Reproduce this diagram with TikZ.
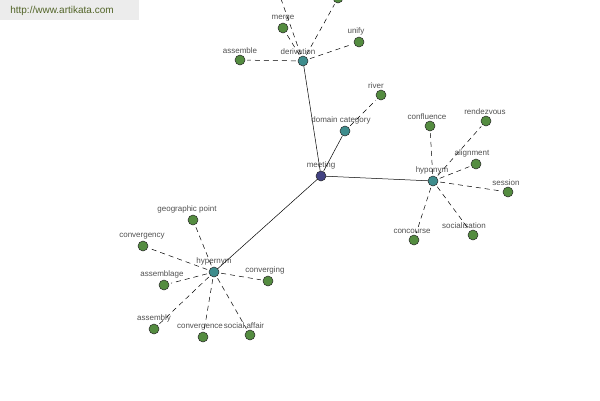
\documentclass[tikz,border=0pt]{standalone}
\usepackage{fontspec}
\setmainfont{Liberation Sans}
\definecolor{leafgreen}{RGB}{84,140,64}
\definecolor{hubteal}{RGB}{62,140,140}
\definecolor{rootblue}{RGB}{66,66,130}
\definecolor{labelgray}{RGB}{80,80,80}
\definecolor{markgray}{RGB}{236,236,236}
\definecolor{markgreen}{RGB}{82,100,40}

\begin{document}
\begin{tikzpicture}[x=1pt, y=-1pt,
    dot/.style={circle, draw=black!85, line width=0.5pt, minimum size=10pt, inner sep=0pt},
    leaf/.style={dot, fill=leafgreen},
    hub/.style={dot, fill=hubteal},
    root/.style={dot, fill=rootblue},
    tag/.style={font=\fontsize{8}{9}\selectfont, text=labelgray, inner sep=1pt},
    solidlink/.style={line width=0.5pt},
    dashlink/.style={line width=0.5pt, dash pattern=on 5pt off 4pt, shorten <=2pt, shorten >=2pt}]
    \useasboundingbox (0,0) rectangle (600,400);
    \clip (0,0) rectangle (600,400);
    \fill[markgray] (0,0) rectangle (139,20);
    \node[font=\fontsize{10}{11}\selectfont, text=markgreen] (site) at (62,11) {http://www.artikata.com};

    \node[root, label={[tag]above:meeting}] (meeting) at (321,176) {};
    \foreach \n/\px/\py/\t/\dx in {derivation/303/61/derivation/-5,
        domcat/345/131/domain category/-4,
        hyponym/433/181/hyponym/-1,
        hypernym/214/272/hypernym/0} {
        \node[hub, label={[tag, xshift=\dx pt]above:\t}] (\n) at (\px,\py) {};
        \draw[solidlink] (meeting) -- (\n);
    }
    \foreach \n/\h/\px/\py/\t/\dx in {merge/derivation/283/28/merge/0,
        assemble/derivation/240/60/assemble/0,
        unify/derivation/359/42/unify/-3,
        river/domcat/381/95/river/-5,
        confluence/hyponym/430/126/confluence/-3,
        rendezvous/hyponym/486/121/rendezvous/-1,
        alignment/hyponym/476/164/alignment/-4,
        session/hyponym/508/192/session/-2,
        socialisation/hyponym/473/235/socialisation/-9,
        concourse/hyponym/414/240/concourse/-2,
        geopoint/hypernym/193/220/geographic point/-6,
        convergency/hypernym/143/246/convergency/-1,
        assemblage/hypernym/164/285/assemblage/-2,
        converging/hypernym/268/281/converging/-3,
        assembly/hypernym/154/329/assembly/0,
        convergence/hypernym/203/337/convergence/-3,
        socialaffair/hypernym/250/335/social affair/-6} {
        \node[leaf, label={[tag, xshift=\dx pt]above:\t}] (\n) at (\px,\py) {};
        \draw[dashlink] (\h) -- (\n);
    }
    % cut off at the top edge
    \node[leaf] (cutoff) at (338,-2) {};
    \coordinate (offtop) at (275,-18);
    \draw[dashlink] (derivation) -- (cutoff);
    \draw[dashlink] (derivation) -- (offtop);
\end{tikzpicture}
\end{document}
